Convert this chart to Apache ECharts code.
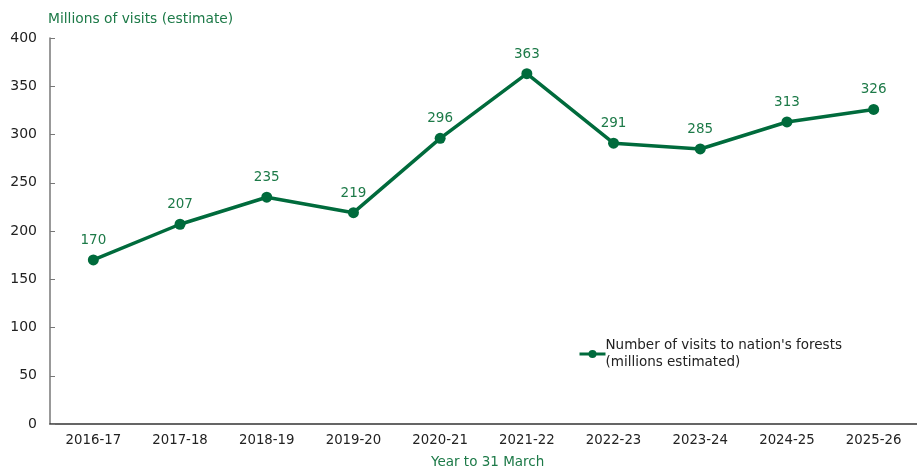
<!DOCTYPE html>
<html><head><meta charset="utf-8">
<script src="https://cdn.jsdelivr.net/npm/echarts@6/dist/echarts.min.js"></script>
<style>html,body{margin:0;padding:0;background:#fff}#c{width:917px;height:468px}</style>
</head><body><div id="c"></div>
<script>
const categories = ['2016-17','2017-18','2018-19','2019-20','2020-21','2021-22','2022-23','2023-24','2024-25','2025-26'];
const visits = [170,207,235,219,296,363,291,285,313,326];
const yTicks = [0,50,100,150,200,250,300,350,400];
const seriesName = "Number of visits to nation's forests\n(millions estimated)";
const green = '#006b3c';
const textGreen = '#1d7a48';
const font = 'DejaVu Sans';
const chart = echarts.init(document.getElementById('c'));
chart.setOption({
  animation:false,
  textStyle:{fontFamily:font},
  grid:{left:50,right:-6,top:38,bottom:44,containLabel:false},
  legend:{show:true,left:573,top:332,itemWidth:26,itemHeight:10,itemGap:0,
    lineStyle:{width:3},
    textStyle:{fontFamily:font,fontSize:13.5,color:'#222',lineHeight:17,padding:[0,0,0,-5]},
    data:[{name:seriesName}]},
  graphic:[
    {type:'text',left:48,top:12,style:{text:'Millions of visits (estimate)',font:'13.8px DejaVu Sans',fill:textGreen}},
    {type:'text',left:431,top:455,style:{text:'Year to 31 March',font:'13.5px DejaVu Sans',fill:textGreen}}
  ],
  xAxis:{type:'category',data:categories,boundaryGap:true,
    axisLine:{lineStyle:{color:'#333',width:1.5}},
    axisTick:{inside:true,length:5,lineStyle:{color:'#777'}},
    axisLabel:{fontFamily:font,fontSize:13.3,color:'#222',margin:10}},
  yAxis:{type:'value',min:0,max:400,interval:50,
    axisLine:{show:true,lineStyle:{color:'#777',width:1.5}},
    axisTick:{show:true,inside:true,length:5,lineStyle:{color:'#777'}},
    splitLine:{show:false},
    axisLabel:{fontFamily:font,fontSize:14,color:'#222',margin:13,
      formatter:v=>yTicks.includes(v)?String(v):''}},
  series:[{name:seriesName,type:'line',data:visits,
    lineStyle:{color:green,width:3.5},itemStyle:{color:green},
    symbol:'circle',symbolSize:11,
    label:{show:true,position:'top',distance:7,color:textGreen,fontFamily:font,fontSize:13.5}}]
});
</script></body></html>
